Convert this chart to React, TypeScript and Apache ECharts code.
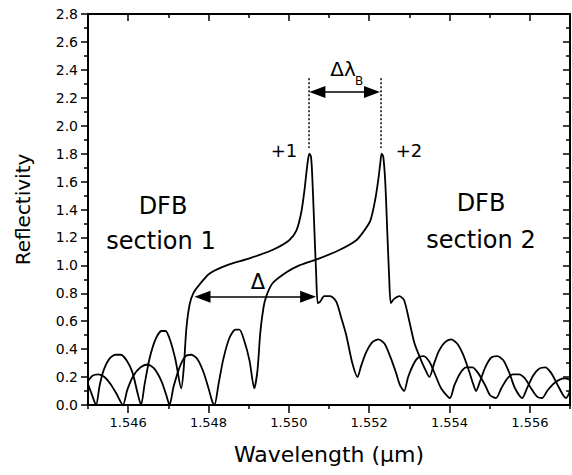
import React, { useEffect, useRef } from "react";
import * as echarts from "echarts";

// Section 1 reflectivity spectrum (wavelength in µm, reflectivity)
const wavelengthA = [1.54500, 1.54509, 1.54520, 1.54529, 1.54539, 1.54553, 1.54568, 1.54581, 1.54596, 1.54611, 1.54623, 1.54632, 1.54641, 1.54653, 1.54668, 1.54683, 1.54693, 1.54705, 1.54718, 1.54732, 1.54738, 1.54745, 1.54753, 1.54762, 1.54777, 1.54802, 1.54845, 1.54902, 1.54959, 1.55001, 1.55019, 1.55031, 1.55039, 1.55046, 1.55051, 1.55055, 1.55058, 1.55063, 1.55068, 1.55072, 1.55078, 1.55088, 1.55103, 1.55118, 1.55131, 1.55143, 1.55158, 1.55171, 1.55180, 1.55193, 1.55208, 1.55223, 1.55238, 1.55252, 1.55267, 1.55277, 1.55287, 1.55297, 1.55310, 1.55322, 1.55335, 1.55350, 1.55364, 1.55379, 1.55401, 1.55412, 1.55427, 1.55442, 1.55457, 1.55471, 1.55489, 1.55501, 1.55516, 1.55529, 1.55544, 1.55558, 1.55573, 1.55588, 1.55603, 1.55618, 1.55631, 1.55643, 1.55658, 1.55673, 1.55688, 1.55700];
const reflectivityA = [0.15, 0.08, 0.00, 0.14, 0.25, 0.33, 0.36, 0.36, 0.32, 0.23, 0.09, 0.00, 0.15, 0.33, 0.47, 0.53, 0.53, 0.46, 0.32, 0.12, 0.25, 0.55, 0.72, 0.80, 0.86, 0.94, 1.00, 1.05, 1.11, 1.18, 1.25, 1.38, 1.54, 1.72, 1.80, 1.78, 1.66, 1.30, 0.94, 0.73, 0.74, 0.78, 0.78, 0.74, 0.62, 0.50, 0.30, 0.20, 0.28, 0.38, 0.45, 0.47, 0.44, 0.35, 0.23, 0.14, 0.10, 0.20, 0.29, 0.34, 0.35, 0.31, 0.22, 0.12, 0.05, 0.14, 0.23, 0.27, 0.27, 0.23, 0.14, 0.07, 0.05, 0.12, 0.19, 0.22, 0.22, 0.19, 0.12, 0.06, 0.05, 0.10, 0.15, 0.18, 0.19, 0.18];

// Section 2 reflectivity spectrum
const wavelengthB = [1.54500, 1.54511, 1.54526, 1.54541, 1.54556, 1.54571, 1.54587, 1.54598, 1.54613, 1.54631, 1.54648, 1.54665, 1.54683, 1.54695, 1.54703, 1.54713, 1.54728, 1.54743, 1.54757, 1.54772, 1.54787, 1.54800, 1.54810, 1.54815, 1.54825, 1.54837, 1.54852, 1.54867, 1.54877, 1.54889, 1.54902, 1.54914, 1.54922, 1.54929, 1.54937, 1.54944, 1.54959, 1.54994, 1.55026, 1.55076, 1.55126, 1.55168, 1.55188, 1.55203, 1.55215, 1.55223, 1.55228, 1.55231, 1.55235, 1.55240, 1.55245, 1.55250, 1.55254, 1.55262, 1.55275, 1.55287, 1.55300, 1.55312, 1.55325, 1.55337, 1.55350, 1.55362, 1.55374, 1.55389, 1.55404, 1.55419, 1.55434, 1.55449, 1.55459, 1.55466, 1.55476, 1.55489, 1.55504, 1.55519, 1.55534, 1.55549, 1.55563, 1.55581, 1.55593, 1.55608, 1.55623, 1.55638, 1.55653, 1.55668, 1.55683, 1.55690, 1.55700];
const reflectivityB = [0.17, 0.21, 0.22, 0.20, 0.15, 0.08, 0.00, 0.11, 0.21, 0.27, 0.29, 0.26, 0.17, 0.07, 0.00, 0.13, 0.27, 0.35, 0.36, 0.33, 0.24, 0.12, 0.02, 0.00, 0.15, 0.33, 0.48, 0.54, 0.54, 0.46, 0.32, 0.12, 0.25, 0.52, 0.70, 0.78, 0.87, 0.95, 1.00, 1.05, 1.11, 1.18, 1.25, 1.32, 1.47, 1.62, 1.74, 1.80, 1.78, 1.60, 1.25, 0.90, 0.73, 0.76, 0.78, 0.75, 0.60, 0.45, 0.35, 0.27, 0.20, 0.30, 0.39, 0.45, 0.47, 0.44, 0.36, 0.24, 0.15, 0.10, 0.17, 0.27, 0.34, 0.35, 0.32, 0.23, 0.12, 0.05, 0.12, 0.21, 0.26, 0.27, 0.23, 0.15, 0.07, 0.05, 0.10];

// Axis ticks
const xMajorTicks = [1.546, 1.548, 1.550, 1.552, 1.554, 1.556];
const xMinorTicks = [1.545, 1.547, 1.549, 1.551, 1.553, 1.555, 1.557];
const xMin = 1.545;
const xMax = 1.557;
const yMin = 0;
const yMax = 2.8;
const yStep = 0.2;

// Annotation anchors (data coordinates)
const peak1 = 1.55049;
const peak2 = 1.55229;
const deltaLambdaY = 2.242;
const dottedTop = 2.34;
const dottedBottom = 1.84;
const deltaArrowStart = 1.54785;
const deltaArrowEnd = 1.55048;
const deltaArrowY = 0.776;

const FONT = '"DejaVu Sans", Arial, sans-serif';

export default function App() {
  const ref = useRef<HTMLDivElement>(null);
  useEffect(() => {
    if (!ref.current) return;
    const chart = echarts.init(ref.current, null, { renderer: "svg" });
    const black = "#000";
    const commonX = {
      type: "value",
      min: xMin,
      max: xMax,
      interval: 0.001,
      splitLine: { show: false },
    };
    const option: any = {
      animation: false,
      backgroundColor: "#fff",
      grid: { left: 88, right: 2, top: 14, bottom: 70, containLabel: false, outerBoundsMode: "none" },
      xAxis: [
        {
          ...commonX,
          position: "bottom",
          axisLine: { show: true, lineStyle: { color: black, width: 2 } },
          axisTick: { show: true, length: 8, customValues: xMajorTicks, lineStyle: { color: black, width: 1.5 } },
          axisLabel: {
            show: true,
            customValues: xMajorTicks,
            formatter: (v: number) => v.toFixed(3),
            color: black,
            fontSize: 13,
            fontFamily: FONT,
            margin: 11,
          },
          name: "Wavelength (\u03bcm)",
          nameLocation: "middle",
          nameGap: 38,
          nameTextStyle: { color: black, fontSize: 22, fontFamily: FONT },
        },
        {
          ...commonX,
          position: "bottom",
          axisLine: { show: false },
          axisTick: { show: true, length: 4, customValues: xMinorTicks, lineStyle: { color: black, width: 1.5 } },
          axisLabel: { show: false },
        },
        {
          ...commonX,
          position: "top",
          axisLine: { show: true, lineStyle: { color: black, width: 2 } },
          axisTick: { show: true, inside: true, length: 7, customValues: xMajorTicks, lineStyle: { color: black, width: 1.5 } },
          axisLabel: { show: false },
        },
        {
          ...commonX,
          position: "top",
          axisLine: { show: false },
          axisTick: { show: true, inside: true, length: 4, customValues: xMinorTicks, lineStyle: { color: black, width: 1.5 } },
          axisLabel: { show: false },
        },
      ],
      yAxis: [
        {
          type: "value",
          position: "left",
          min: yMin,
          max: yMax,
          interval: yStep,
          splitLine: { show: false },
          axisLine: { show: true, lineStyle: { color: black, width: 2 } },
          axisTick: { show: true, length: 7, lineStyle: { color: black, width: 1.5 } },
          minorTick: { show: true, splitNumber: 2, length: 4, lineStyle: { color: black, width: 1.5 } },
          axisLabel: {
            formatter: (v: number) => v.toFixed(1),
            color: black,
            fontSize: 14,
            fontFamily: FONT,
            margin: 10,
          },
          name: "Reflectivity",
          nameLocation: "middle",
          nameGap: 55,
          nameTextStyle: { color: black, fontSize: 20, fontFamily: FONT },
        },
        {
          type: "value",
          position: "right",
          min: yMin,
          max: yMax,
          interval: yStep,
          splitLine: { show: false },
          axisLine: { show: true, lineStyle: { color: black, width: 2 } },
          axisTick: { show: true, inside: true, length: 7, lineStyle: { color: black, width: 1.5 } },
          minorTick: { show: true, splitNumber: 2, length: 4, lineStyle: { color: black, width: 1.5 } },
          axisLabel: { show: false },
        },
      ],
      series: [
        {
          name: "DFB section 1",
          type: "line",
          xAxisIndex: 0,
          yAxisIndex: 0,
          data: wavelengthA.map((w, i) => [w, reflectivityA[i]]),
          showSymbol: false,
          smooth: 0.25,
          lineStyle: { color: black, width: 1.8 },
          markLine: {
            silent: true,
            symbol: ["triangle", "triangle"],
            symbolSize: [12, 16],
            label: { show: false },
            lineStyle: { color: black, width: 1.5, type: "solid" },
            itemStyle: { color: black },
            data: [
              [{ coord: [deltaArrowStart, deltaArrowY] }, { coord: [deltaArrowEnd, deltaArrowY] }],
              [{ coord: [peak1 + 0.00022, deltaLambdaY] }, { coord: [peak2 - 0.00022, deltaLambdaY] }],
            ],
          },
        },
        {
          name: "DFB section 2",
          type: "line",
          xAxisIndex: 0,
          yAxisIndex: 0,
          data: wavelengthB.map((w, i) => [w, reflectivityB[i]]),
          showSymbol: false,
          smooth: 0.25,
          lineStyle: { color: black, width: 1.8 },
          markLine: {
            silent: true,
            symbol: ["none", "none"],
            label: { show: false },
            lineStyle: { color: black, width: 1.5, type: [2, 2] },
            data: [
              [{ coord: [peak1, dottedTop] }, { coord: [peak1, dottedBottom] }],
              [{ coord: [peak2, dottedTop] }, { coord: [peak2, dottedBottom] }],
            ],
          },
        },
      ],
      graphic: [
        { type: "text", x: 163, y: 206, style: { text: "DFB", fontSize: 24, fontFamily: FONT, fill: black, align: "center", verticalAlign: "middle" } },
        { type: "text", x: 161, y: 241, style: { text: "section 1", fontSize: 24, fontFamily: FONT, fill: black, align: "center", verticalAlign: "middle" } },
        { type: "text", x: 481, y: 203, style: { text: "DFB", fontSize: 24, fontFamily: FONT, fill: black, align: "center", verticalAlign: "middle" } },
        { type: "text", x: 481, y: 240, style: { text: "section 2", fontSize: 24, fontFamily: FONT, fill: black, align: "center", verticalAlign: "middle" } },
        { type: "text", x: 284, y: 150, style: { text: "+1", fontSize: 18, fontFamily: FONT, fill: black, align: "center", verticalAlign: "middle" } },
        { type: "text", x: 409, y: 150, style: { text: "+2", fontSize: 18, fontFamily: FONT, fill: black, align: "center", verticalAlign: "middle" } },
        { type: "text", x: 343, y: 69, style: { text: "\u0394\u03bb", fontSize: 20, fontFamily: FONT, fill: black, align: "center", verticalAlign: "middle" } },
        { type: "text", x: 359, y: 81, style: { text: "B", fontSize: 12, fontFamily: FONT, fill: black, align: "center", verticalAlign: "middle" } },
        { type: "text", x: 258, y: 282, style: { text: "\u0394", fontSize: 21, fontFamily: FONT, fill: black, align: "center", verticalAlign: "middle" } },
      ],
    };
    chart.setOption(option);
    return () => chart.dispose();
  }, []);
  return (
    <div
      ref={ref}
      style={{ position: "fixed", left: 0, top: 0, width: 572, height: 475, background: "#fff" }}
    />
  );
}
